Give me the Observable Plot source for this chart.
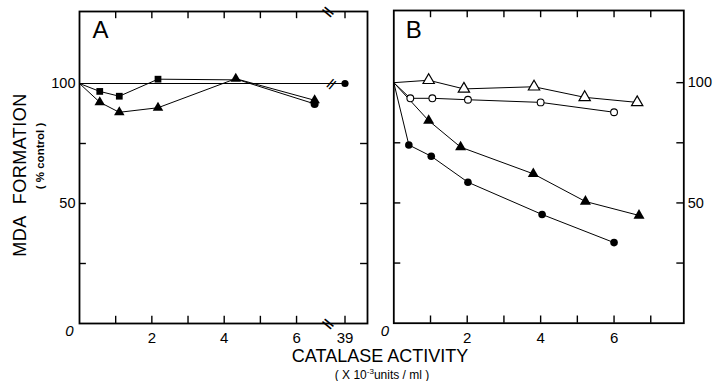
<!DOCTYPE html>
<html><head><meta charset="utf-8">
<script src="https://cdn.jsdelivr.net/npm/d3@7"></script>
<script src="https://cdn.jsdelivr.net/npm/@observablehq/plot@0.6"></script>
<style>
body{margin:0;background:#fff;}
#wrap{position:relative;width:713px;height:381px;overflow:hidden;font-family:"Liberation Sans",Arial,sans-serif;color:#000;background:#fff;}
#wrap svg{position:absolute;top:0;}
.t{position:absolute;white-space:nowrap;}
</style></head><body><div id="wrap"></div>
<script>
// ---------- Panel A data ----------
const aCtrlX = [0, 39];
const aCtrlY = [100, 100];
const aSqX = [0, 0.56, 1.1, 2.17, 4.4, 6.5];
const aSqY = [100, 96.7, 94.7, 101.8, 101.5, 91.5];
const aTriX = [0, 0.56, 1.1, 2.17, 4.32, 6.5];
const aTriY = [100, 92.2, 88, 89.9, 102, 93];
// ---------- Panel B data ----------
const bOpenTriX = [0, 0.95, 1.91, 3.82, 5.2, 6.63];
const bOpenTriY = [100, 101, 97.4, 98.3, 93.9, 91.8];
const bOpenCircX = [0, 0.45, 1.05, 2.02, 4.0, 6.0];
const bOpenCircY = [100, 93.5, 93.5, 92.9, 91.8, 87.7];
const bFillTriX = [0, 0.95, 1.82, 3.8, 5.22, 6.68];
const bFillTriY = [100, 84.2, 73.2, 62.1, 50.6, 44.8];
const bFillCircX = [0, 0.41, 1.02, 2.02, 4.04, 6.0];
const bFillCircY = [100, 74.1, 69.4, 58.6, 45.2, 33.5];
// ---------- ticks ----------
const aXTicks = [1, 2, 3, 4, 5, 6, 39];
const aXTickLabels = [2, 4, 6, 39];
const bXTicks = [1, 2, 3, 4, 5, 6, 7];
const bXTickLabels = [2, 4, 6];
const yMinorTicks = [25, 50, 75];
const yTickLabels = [50, 100];
const yMax = 130;
const aBreak = 6.85;      // axis break in panel A
const aXMax = 39.65;
const bXMax = 7.9;

const pts = (X, Y) => X.map((x, i) => ({x, y: Y[i]}));
const font = {fontFamily: "Liberation Sans, Arial, sans-serif", fontSize: "14px", background: "transparent", color: "#000", overflow: "visible"};
const H = 381;
const lineOpt = {x: "x", y: "y", stroke: "#000", strokeWidth: 1};
const tickYLen = 3;         // in y units
const xLabelOpt = {x: d => d, y: () => 0, text: d => String(d), dy: 9, lineAnchor: "top", fontSize: 15, fill: "#000"};
const yAxisFont = {fontSize: 14.5, fill: "#000"};

// ---------- Panel A ----------
const aSq = pts(aSqX, aSqY), aTri = pts(aTriX, aTriY), aCtrl = pts(aCtrlX, aCtrlY);
const plotA = Plot.plot({
  width: 375, height: H,
  marginLeft: 79, marginRight: 8, marginTop: 11, marginBottom: 58,
  style: font,
  x: {type: "linear", domain: [0, aBreak, 38.5, aXMax], range: [79, 326.8, 327.2, 367], axis: null},
  y: {domain: [0, yMax]},
  marks: [
    Plot.text(aXTickLabels, xLabelOpt),
    Plot.axisY({ticks: yTickLabels, tickSize: 0, tickPadding: 4, label: null, ...yAxisFont}),
    Plot.frame({stroke: "#000", strokeWidth: 1.8}),
    Plot.ruleX(aXTicks, {x: d => d, y1: 0, y2: tickYLen, stroke: "#000", strokeWidth: 1.4}),
    Plot.ruleX(aXTicks, {x: d => d, y1: yMax - tickYLen, y2: yMax, stroke: "#000", strokeWidth: 1.4}),
    Plot.ruleY(yMinorTicks, {y: d => d, x1: 0, x2: 0.19, stroke: "#000", strokeWidth: 1.4}),
    Plot.ruleY(yMinorTicks, {y: d => d, x1: aXMax - 0.2, x2: aXMax, stroke: "#000", strokeWidth: 1.4}),
    Plot.text([0, yMax], {x: () => aBreak, y: d => d, text: () => "||", rotate: -50, fontSize: 12, fontWeight: "bold"}),
    Plot.text([100], {x: () => 38.62, y: d => d, text: () => "||", rotate: 40, fontSize: 11, fontWeight: "bold"}),
    Plot.line(aCtrl, lineOpt),
    Plot.line(aSq, lineOpt),
    Plot.line(aTri, lineOpt),
    Plot.dot(aCtrl.slice(1), {x: "x", y: "y", r: 3.6, fill: "#000", stroke: "none"}),
    Plot.dot(aSq.slice(1, 4), {x: "x", y: "y", symbol: "square", r: 3.8, fill: "#000", stroke: "none"}),
    Plot.dot(aSq.slice(5), {x: "x", y: "y", r: 4, fill: "#000", stroke: "none"}),
    Plot.dot(aTri.slice(1), {x: "x", y: "y", symbol: "triangle", r: 3.9, fill: "#000", stroke: "none"}),
    Plot.text([0], {x: d => d, y: d => d, text: () => "0", dx: -10, dy: 8, fontStyle: "italic", fontSize: 15}),
    Plot.text(["A"], {frameAnchor: "top-left", text: d => d, dx: 13, dy: 9, fontSize: 24, textAnchor: "start", lineAnchor: "top"})
  ]
});
plotA.style.left = "0px";

// ---------- Panel B ----------
const bOT = pts(bOpenTriX, bOpenTriY), bOC = pts(bOpenCircX, bOpenCircY);
const bFT = pts(bFillTriX, bFillTriY), bFC = pts(bFillCircX, bFillCircY);
const plotB = Plot.plot({
  width: 338, height: H,
  marginLeft: 18.3, marginRight: 29.7, marginTop: 10, marginBottom: 58.3,
  style: font,
  x: {domain: [0, bXMax], axis: null},
  y: {domain: [0, yMax]},
  marks: [
    Plot.text(bXTickLabels, xLabelOpt),
    Plot.axisY({anchor: "right", ticks: yTickLabels, tickSize: 0, tickPadding: 4, label: null, ...yAxisFont}),
    Plot.frame({stroke: "#000", strokeWidth: 1.8}),
    Plot.ruleX(bXTicks, {x: d => d, y1: 0, y2: tickYLen, stroke: "#000", strokeWidth: 1.4}),
    Plot.ruleX(bXTicks, {x: d => d, y1: yMax - tickYLen, y2: yMax, stroke: "#000", strokeWidth: 1.4}),
    Plot.ruleY(yMinorTicks, {y: d => d, x1: 0, x2: 0.19, stroke: "#000", strokeWidth: 1.4}),
    Plot.ruleY(yMinorTicks.concat([100]), {y: d => d, x1: bXMax - 0.19, x2: bXMax, stroke: "#000", strokeWidth: 1.4}),
    Plot.line(bOT, lineOpt),
    Plot.line(bOC, lineOpt),
    Plot.line(bFT, lineOpt),
    Plot.line(bFC, lineOpt),
    Plot.dot(bOT.slice(1), {x: "x", y: "y", symbol: "triangle", r: 4.2, fill: "#fff", stroke: "#000", strokeWidth: 1.2}),
    Plot.dot(bOC.slice(1), {x: "x", y: "y", r: 3.4, fill: "#fff", stroke: "#000", strokeWidth: 1.1}),
    Plot.dot(bFT.slice(1), {x: "x", y: "y", symbol: "triangle", r: 4.1, fill: "#000", stroke: "none"}),
    Plot.dot(bFC.slice(1), {x: "x", y: "y", r: 3.8, fill: "#000", stroke: "none"}),
    Plot.text([0], {x: d => d, y: d => d, text: () => "0", dx: -9, dy: 8, fontStyle: "italic", fontSize: 15}),
    Plot.text(["B"], {frameAnchor: "top-left", text: d => d, dx: 12, dy: 10, fontSize: 24, textAnchor: "start", lineAnchor: "top"})
  ]
});
plotB.style.left = "375px";

const wrap = document.getElementById("wrap");
wrap.appendChild(plotA);
wrap.appendChild(plotB);

function addText(html, css) {
  const d = document.createElement("div");
  d.className = "t";
  d.innerHTML = html;
  Object.assign(d.style, css);
  wrap.appendChild(d);
}
addText("MDA&nbsp;&nbsp;FORMATION", {left: "20px", top: "175px", fontSize: "18px", letterSpacing: "0.5px", transform: "translate(-50%,-50%) rotate(-90deg)"});
addText("( % control )", {left: "40px", top: "156px", fontSize: "11.5px", fontWeight: "bold", transform: "translate(-50%,-50%) rotate(-90deg)"});
addText("CATALASE ACTIVITY", {left: "380px", top: "356px", fontSize: "18px", transform: "translate(-50%,-50%)"});
addText("( X 10<sup style=\"font-size:8px;vertical-align:5px\">-3</sup>units / ml )", {left: "382px", top: "373px", fontSize: "12px", transform: "translate(-50%,-50%)", lineHeight: "12px"});
</script>
</body></html>
